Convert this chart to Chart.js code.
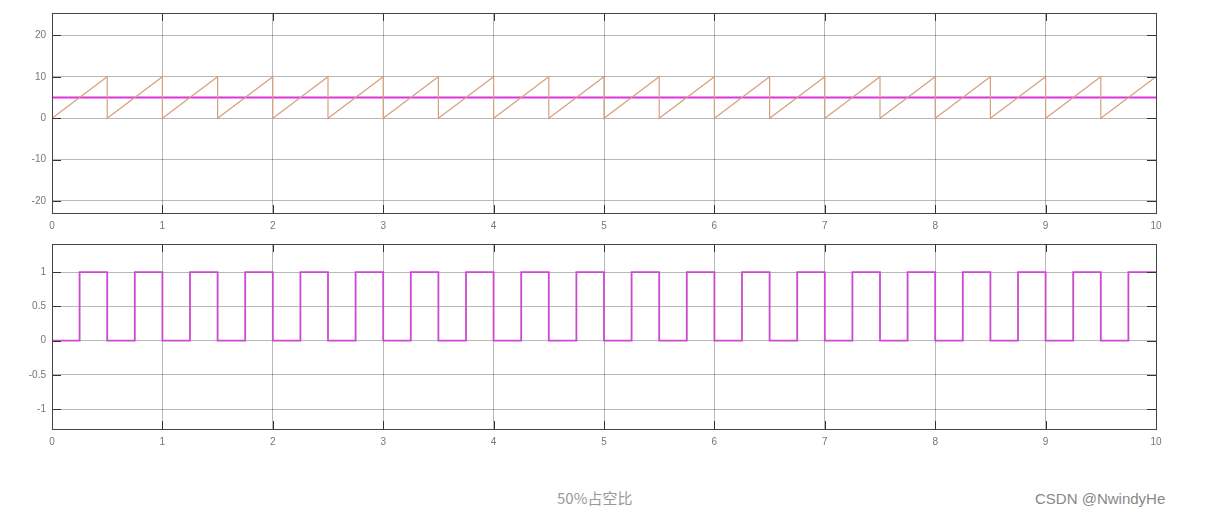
<!DOCTYPE html>
<html>
<head>
<meta charset="utf-8">
<script src="https://cdn.jsdelivr.net/npm/chart.js@4/dist/chart.umd.min.js"></script>
<style>
  body { margin: 0; background: #fff; width: 1206px; height: 523px; position: relative; overflow: hidden; }
  canvas { position: absolute; left: 0; }
  #c1 { top: 0; }
  #c2 { top: 231px; }
  .caption { position: absolute; left: 557px; top: 487px; font: 15px "Noto Sans CJK SC", sans-serif; color: #999; }
  .mark { position: absolute; left: 1035px; top: 490px; font: 15px "Liberation Sans", Arial, sans-serif; color: #888; }
</style>
</head>
<body>
<canvas id="c1" width="1206" height="235"></canvas>
<canvas id="c2" width="1206" height="220"></canvas>
<div class="caption">50%占空比</div>
<div class="mark">CSDN @NwindyHe</div>
<script>
// time ticks shared by both plots
const xTicks = [0, 1, 2, 3, 4, 5, 6, 7, 8, 9, 10];

// top plot: sawtooth carrier and the constant compare level
const sawX = [0, 0.5, 0.5, 1, 1, 1.5, 1.5, 2, 2, 2.5, 2.5, 3, 3, 3.5, 3.5, 4, 4, 4.5, 4.5, 5,
              5, 5.5, 5.5, 6, 6, 6.5, 6.5, 7, 7, 7.5, 7.5, 8, 8, 8.5, 8.5, 9, 9, 9.5, 9.5, 10];
const sawY = [0, 10, 0, 10, 0, 10, 0, 10, 0, 10, 0, 10, 0, 10, 0, 10, 0, 10, 0, 10,
              0, 10, 0, 10, 0, 10, 0, 10, 0, 10, 0, 10, 0, 10, 0, 10, 0, 10, 0, 10];
const levelX = [0, 10];
const levelY = [5, 5];
const yTicksTop = [-20, -10, 0, 10, 20];

// bottom plot: PWM output (value holds from each time until the next)
const pwmX = [0, 0.25, 0.5, 0.75, 1, 1.25, 1.5, 1.75, 2, 2.25, 2.5, 2.75, 3, 3.25, 3.5, 3.75,
              4, 4.25, 4.5, 4.75, 5, 5.25, 5.5, 5.75, 6, 6.25, 6.5, 6.75, 7, 7.25, 7.5, 7.75,
              8, 8.25, 8.5, 8.75, 9, 9.25, 9.5, 9.75, 10];
const pwmY = [0, 1, 0, 1, 0, 1, 0, 1, 0, 1, 0, 1, 0, 1, 0, 1,
              0, 1, 0, 1, 0, 1, 0, 1, 0, 1, 0, 1, 0, 1, 0, 1,
              0, 1, 0, 1, 0, 1, 0, 1, 1];
const yTicksBottom = [-1, -0.5, 0, 0.5, 1];

const pts = (xs, ys) => xs.map((x, i) => ({ x, y: ys[i] }));

// short tick marks drawn inward on all four sides, like the scope plot
const innerTicks = {
  id: "innerTicks",
  afterDraw(chart) {
    const { ctx, chartArea: a, scales } = chart;
    ctx.save();
    ctx.strokeStyle = "#333";
    ctx.lineWidth = 1;
    ctx.beginPath();
    scales.x.ticks.forEach(t => {
      const px = Math.round(scales.x.getPixelForValue(t.value)) + 0.5;
      ctx.moveTo(px, a.top); ctx.lineTo(px, a.top + 8);
      ctx.moveTo(px, a.bottom); ctx.lineTo(px, a.bottom - 8);
    });
    scales.y.ticks.forEach(t => {
      const py = Math.round(scales.y.getPixelForValue(t.value)) + 0.5;
      ctx.moveTo(a.left, py); ctx.lineTo(a.left + 9, py);
      ctx.moveTo(a.right, py); ctx.lineTo(a.right - 9, py);
    });
    ctx.stroke();
    ctx.strokeStyle = "#444";
    ctx.strokeRect(Math.round(a.left) + 0.5, Math.round(a.top) + 0.5,
                   Math.round(a.right - a.left), Math.round(a.bottom - a.top));
    ctx.restore();
  }
};

const tickFont = { family: "'Liberation Sans', Arial, sans-serif", size: 10 };

function makeOptions(yMin, yMax, yTicks) {
  return {
    responsive: false,
    animation: false,
    layout: { padding: { top: 13, right: 50, left: 0, bottom: 0 } },
    plugins: { legend: { display: false }, tooltip: { enabled: false } },
    elements: { point: { radius: 0 }, line: { tension: 0 } },
    scales: {
      x: {
        type: "linear",
        min: 0,
        max: 10,
        afterBuildTicks: s => { s.ticks = xTicks.map(v => ({ value: v })); },
        afterFit: s => { s.height = 22; },
        grid: { color: "rgba(0,0,0,0.28)", drawTicks: false },
        border: { display: false },
        ticks: { color: "#777", font: tickFont, padding: 7, maxRotation: 0, callback: v => String(v) }
      },
      y: {
        min: yMin,
        max: yMax,
        afterBuildTicks: s => { s.ticks = yTicks.map(v => ({ value: v })); },
        afterFit: s => { s.width = 52; },
        grid: { color: "rgba(0,0,0,0.28)", drawTicks: false },
        border: { display: false },
        ticks: { color: "#777", font: tickFont, padding: 6, callback: v => String(v) }
      }
    }
  };
}

new Chart(document.getElementById("c1"), {
  type: "line",
  data: {
    datasets: [
      {
        data: pts(sawX, sawY),
        borderColor: "#D6A07E",
        borderWidth: 1.2,
        fill: false
      },
      {
        data: pts(levelX, levelY),
        borderColor: "#DD33DD",
        borderWidth: 2,
        fill: false
      }
    ]
  },
  options: makeOptions(-22.9, 25.4, yTicksTop),
  plugins: [innerTicks]
});

new Chart(document.getElementById("c2"), {
  type: "line",
  data: {
    datasets: [
      {
        data: pts(pwmX, pwmY),
        borderColor: "#C94BD0",
        borderWidth: 1.8,
        stepped: "before",
        fill: false
      }
    ]
  },
  options: makeOptions(-1.29, 1.41, yTicksBottom),
  plugins: [innerTicks]
});
</script>
</body>
</html>
